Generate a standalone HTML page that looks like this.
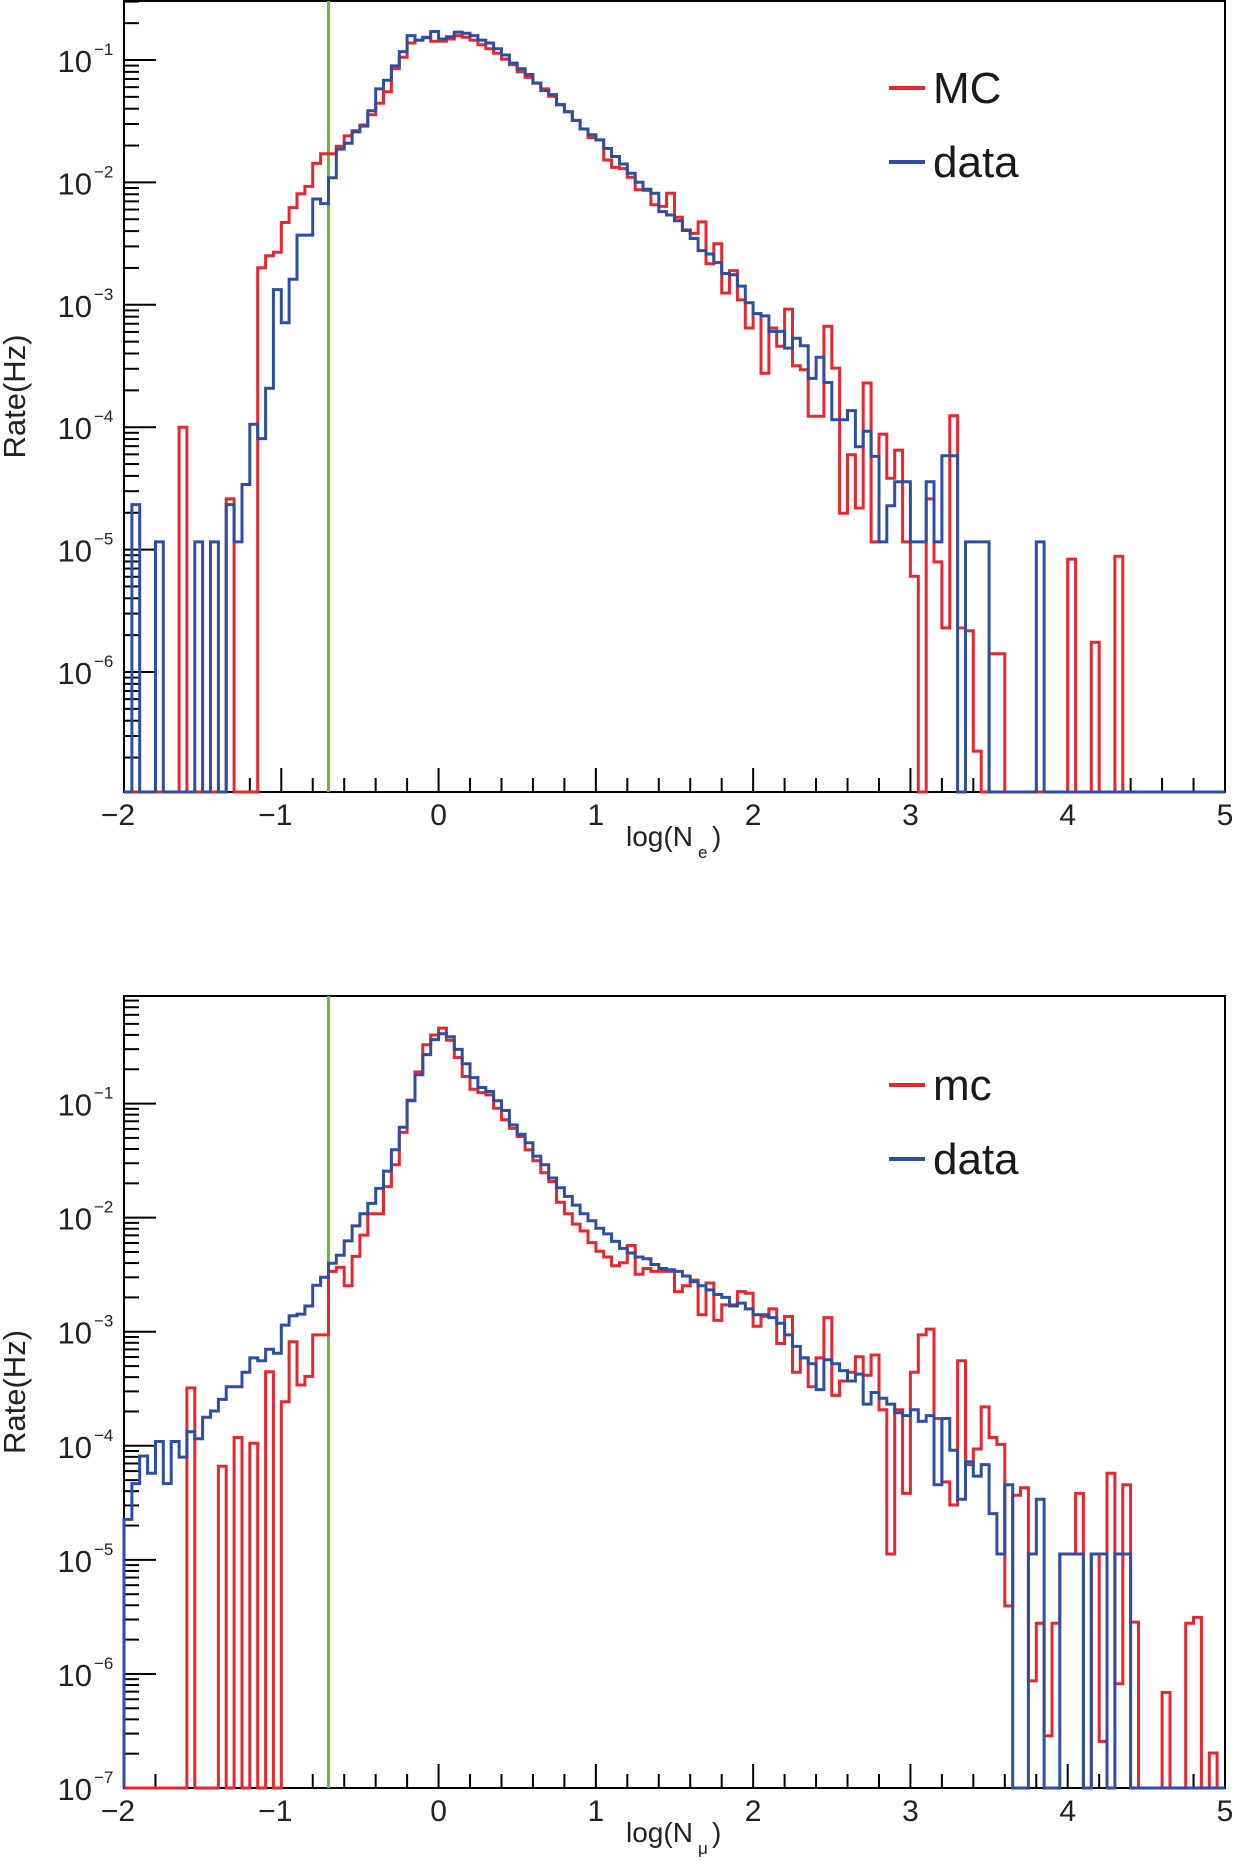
<!DOCTYPE html>
<html><head><meta charset="utf-8"><style>
html,body{margin:0;padding:0;background:#fff;}
svg{display:block;font-family:"Liberation Sans",sans-serif;}
</style></head><body>
<svg id="s" width="1233" height="1865" viewBox="0 0 1233 1865" xmlns="http://www.w3.org/2000/svg"></svg>
<script>
const NS="http://www.w3.org/2000/svg";
const S=document.getElementById('s');
function el(t,a,txt){const e=document.createElementNS(NS,t);for(const k in a)e.setAttribute(k,a[k]);if(txt!==undefined)e.textContent=txt;S.appendChild(e);return e;}
const X0=124,X1=1225,XU=(X1-X0)/7;
function xv(v){return X0+(v+2)*XU;}
const B=null;
function drawHist(vals,conv,bottom,color){
  let d="M"+X0+","+bottom;
  for(let i=0;i<140;i++){
    const v=vals[i];const y=(v===null||v===undefined)?bottom:conv(v);
    const xa=X0+i*0.05*XU,xb=X0+(i+1)*0.05*XU;
    d+=" L"+xa.toFixed(1)+","+y.toFixed(1)+" L"+xb.toFixed(1)+","+y.toFixed(1);
  }
  d+=" L"+X1+","+bottom;
  el('path',{d:d,fill:'none',stroke:color,'stroke-width':3,'stroke-linejoin':'miter'});
}
function panel(top,bottom,ylog0,ypx0,dec,decs,xlab,sub,leg1,ly){
  el('rect',{x:X0,y:top,width:X1-X0,height:bottom-top,fill:'none',stroke:'#000','stroke-width':2});
  for(let e=-8;e<=1;e++){
    for(let m=1;m<=9;m++){
      const lg=e+Math.log10(m);
      const y=ypx0+(ylog0-lg)*dec;
      if(y<top-0.5||y>bottom+0.5)continue;
      el('line',{x1:X0,x2:X0+(m===1?32:15),y1:y,y2:y,stroke:'#000','stroke-width':2});
    }
  }
  for(const e of decs){
    const y=ypx0+(ylog0-e)*dec;
    el('text',{x:92,y:y+12,'font-size':31,'text-anchor':'end',fill:'#222'},'10');
    el('text',{x:94,y:y-5,'font-size':17,fill:'#222'},'\u2212'+(-e));
  }
  for(let i=0;i<=70;i++){
    const v=-2+i*0.1;const x=xv(v);
    const major=(i%10===0);const mid=(i%2===0);
    const len=major?24:(mid?14:0);
    if(len)el('line',{x1:x,x2:x,y1:bottom,y2:bottom-len,stroke:'#000','stroke-width':2});
  }
  for(let v=-2;v<=5;v++){
    el('text',{x:xv(v)+(v<0?-6:0),y:bottom+33,'font-size':30,'text-anchor':'middle',fill:'#222'},(v<0?'\u2212':'')+Math.abs(v));
  }
  el('text',{x:626,y:bottom+54,'font-size':28,fill:'#222'},'log(N');
  el('text',{x:698,y:bottom+66,'font-size':17,fill:'#222'},sub);
  el('text',{x:712,y:bottom+54,'font-size':28,fill:'#222'},')');
  el('text',{x:0,y:0,'font-size':31,'text-anchor':'middle',fill:'#222',transform:'translate(25,'+((top+bottom)/2)+') rotate(-90)'},'Rate(Hz)');
  el('line',{x1:xv(-0.7),x2:xv(-0.7),y1:top,y2:bottom,stroke:'#6ab82e','stroke-width':3});
  el('line',{x1:889,x2:925,y1:ly,y2:ly,stroke:'#e8262d','stroke-width':4});
  el('text',{x:933,y:ly+15,'font-size':44,fill:'#1a1a1a'},leg1);
  el('line',{x1:889,x2:925,y1:ly+74,y2:ly+74,stroke:'#2e4ea2','stroke-width':4});
  el('text',{x:933,y:ly+89,'font-size':44,fill:'#1a1a1a'},'data');
}
// ---- TOP ----
const topMC=[B,B,B,B,B,B,B,745,B,B,B,B,B,870,B,B,B,
467,446,440,388,362,338,325,285,268,268,255,237,228,218,200,180,160,120,100,75,70,66,72,
72,68,62,65,70,78,85,93,103,113,125,135,145,155,168,182,195,210,225,240,
244,279,292,294,309,331,332,357,360,337,379,401,407,387,460,425,511,472,523,572,
547,651,572,604,539,638,645,726,726,569,642,895,793,886,668,945,757,834,785,945,
1005,B,870,980,1095,725,1095,1100,1310,B,1140,1140,B,B,B,B,B,B,B,B,
975,B,B,1120,B,B,970,B,B,B,B,B,B,B,B,B,B,B,B,B];
const topD=[B,880,B,B,945,B,B,B,B,945,B,945,B,880,945,845,740,
765,677,505,563,487,410,410,347,355,310,260,250,230,220,193,155,140,115,90,62,70,65,55,
68,64,56,58,62,70,75,85,96,110,120,130,145,158,165,183,195,210,225,235,
244,259,273,286,302,318,330,337,369,375,385,402,416,437,443,458,477,479,499,528,
547,551,578,578,607,590,603,660,623,667,732,732,716,779,752,796,945,882,840,840,
945,945,840,945,795,795,B,945,945,945,B,B,B,B,B,B,945,B,B,B,
B,B,B,B,B,B,B,B,B,B,B,B,B,B,B,B,B,B,B,B];
panel(1,792,-1,60,122.4,[-1,-2,-3,-4,-5,-6],'log','e','MC',88);
const ct=v=>v/1.744;
drawHist(topMC,ct,792,'#e8262d');
drawHist(topD,ct,792,'#2e4ea2');
// ---- BOTTOM ----
const botMC=[B,B,B,B,B,B,B,B,742,B,B,B,878,B,828,B,838,B,
714,B,766,662,737,722,650,650,540,533,565,514,477,440,440,393,355,299,243,194,147,130,
118,139,169,202,224,230,234,257,277,292,306,329,348,369,384,420,440,458,470,490,
505,515,530,525,495,545,535,540,540,540,575,565,555,615,560,625,598,598,575,578,
635,618,605,665,618,715,690,740,690,620,755,730,715,688,720,685,780,1030,780,925,
715,650,640,795,905,945,695,875,848,775,828,840,1120,928,915,1250,1150,1345,1150,1030,
1030,925,B,1030,1355,890,1255,910,1148,B,B,B,1270,B,B,1150,1140,B,1375,B];
const botD=[970,908,860,890,835,908,835,862,818,830,793,782,762,740,740,715,690,695,675,682,633,617,614,600,564,550,526,512,487,461,440,422,396,366,329,290,244,199,164,138,
128,133,155,180,204,221,228,244,261,286,302,317,340,355,378,395,410,425,440,452,
465,475,488,500,508,515,518,528,535,537,540,548,558,565,572,580,585,600,595,605,
615,615,620,630,650,670,690,700,745,693,700,712,730,718,770,750,760,770,785,790,
780,800,790,910,795,850,935,870,895,875,960,1030,910,B,B,1030,935,B,B,1030,
1030,1030,B,1030,1030,B,1030,1030,B,B,B,B,B,B,B,B,B,B,B,B];
panel(996,1788,-1,1103.6,114.07,[-1,-2,-3,-4,-5,-6,-7],'log','\u03bc','mc',1085);
const cb=v=>960+v/1.734;
drawHist(botMC,cb,1788,'#e8262d');
drawHist(botD,cb,1788,'#2e4ea2');
</script>
</body></html>
